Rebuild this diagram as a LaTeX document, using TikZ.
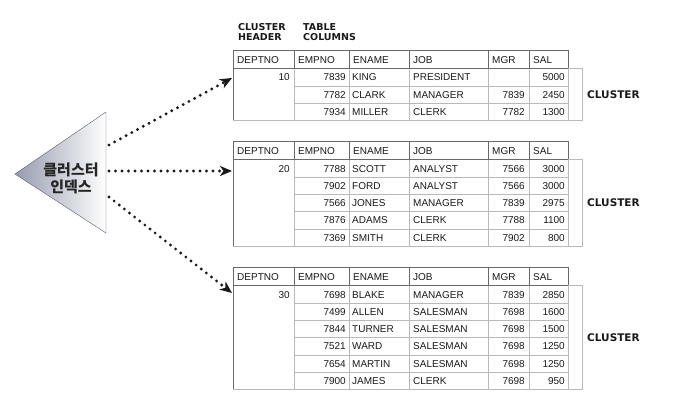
\documentclass[tikz,border=0pt]{standalone}
\usepackage{fontspec}
\setmainfont{Liberation Sans}
\newfontfamily\krfont{Noto Sans CJK KR}
\newfontfamily\tagfont{DejaVu Sans}
\usetikzlibrary{arrows.meta}

\definecolor{gridgray}{RGB}{185,185,185}
\definecolor{framegray}{RGB}{105,105,105}
\definecolor{tridark}{RGB}{150,155,175}
\definecolor{triedge}{RGB}{90,94,108}

\tikzset{
	cell/.style={font=\fontsize{10}{12}\selectfont, inner sep=0pt, text=black!90},
	num/.style={cell, anchor=base east},
	txt/.style={cell, anchor=base west},
	tag/.style={font=\tagfont\bfseries\fontsize{10.5}{10}\selectfont, inner sep=0pt, text=black!90},
	dotarrow/.style={black!90, line width=3.2pt, line cap=round, dash pattern=on 0pt off 6.5pt, -{Stealth[length=12pt, width=10pt, inset=3.5pt]}}
}

\begin{document}
\begin{tikzpicture}[x=1pt, y=-1pt]
	\useasboundingbox (0,0) rectangle (674,406);
	% labels over the first table
	\node[tag, font=\tagfont\bfseries\fontsize{9.5}{10}\selectfont, anchor=north west, align=left] (chead) at (238,23) {CLUSTER\\HEADER};
	\node[tag, font=\tagfont\bfseries\fontsize{9.5}{10}\selectfont, anchor=north west, align=left] (tcols) at (303,23) {TABLE\\COLUMNS};
	% the three clusters
	\foreach \ty/\n/\dep in {50/3/10, 141/5/20, 267/6/30} {
		\pgfmathsetmacro\hy{\ty+18.5}
		\pgfmathsetmacro\by{\hy+\n*17.3}
		\pgfmathtruncatemacro\m{\n-1}
		\foreach \r in {1,...,\m}
			\draw[gridgray] (294,\hy+\r*17.3) -- (568,\hy+\r*17.3);
		\foreach \cx in {294,349,409,488,529}
			\draw[gridgray] (\cx,\hy) -- (\cx,\by);
		\draw[gridgray] (233,\by) -- (568,\by) -- (568,\hy);
		\draw[framegray] (233,\hy) -- (233,\by);
		\draw[framegray, fill=white] (233,\ty) rectangle (568,\hy);
		\foreach \cx in {294,349,409,488,529}
			\draw[framegray] (\cx,\ty) -- (\cx,\hy);
		\foreach \cx/\h in {233/DEPTNO, 294/EMPNO, 349/ENAME, 409/JOB, 488/MGR, 529/SAL}
			\node[txt] (h\dep\h) at (\cx+4,\ty+13.5) {\h};
		\node[num] (d\dep) at (290,\hy+12.5) {\dep};
		\draw[gridgray] (568,\hy) -- (582,\hy) -- (582,\by) -- (568,\by);
		\node[tag, anchor=west] (cl\dep) at (587,{(\hy+\by)/2}) {CLUSTER};
	}
	% rows: table top / row / EMPNO / ENAME / JOB / MGR / SAL
	\foreach \ty/\i/\e/\nm/\job/\mgr/\sal in {
			50/0/7839/KING/PRESIDENT//5000, 50/1/7782/CLARK/MANAGER/7839/2450, 50/2/7934/MILLER/CLERK/7782/1300,
			141/0/7788/SCOTT/ANALYST/7566/3000, 141/1/7902/FORD/ANALYST/7566/3000, 141/2/7566/JONES/MANAGER/7839/2975,
			141/3/7876/ADAMS/CLERK/7788/1100, 141/4/7369/SMITH/CLERK/7902/800,
			267/0/7698/BLAKE/MANAGER/7839/2850, 267/1/7499/ALLEN/SALESMAN/7698/1600, 267/2/7844/TURNER/SALESMAN/7698/1500,
			267/3/7521/WARD/SALESMAN/7698/1250, 267/4/7654/MARTIN/SALESMAN/7698/1250, 267/5/7900/JAMES/CLERK/7698/950} {
		\node[num] (no\e) at (346,\ty+31+\i*17.3) {\e};
		\node[txt] (nm\e) at (352,\ty+31+\i*17.3) {\nm};
		\node[txt] (job\e) at (413,\ty+31+\i*17.3) {\job};
		\node[num] (mgr\e) at (525,\ty+31+\i*17.3) {\mgr};
		\node[num] (sal\e) at (565,\ty+31+\i*17.3) {\sal};
	}
	% cluster index
	\draw[triedge, left color=tridark, right color=white] (15,174) -- (106,112) -- (106,233) -- cycle;
	\node[font=\krfont\bfseries\fontsize{15}{17}\selectfont, align=center, text=black!85] (idx) at (71,178.5) {클러스터\\인덱스};
	\coordinate (s1) at (109,145);
	\coordinate (s2) at (109,171);
	\coordinate (s3) at (109,197);
	\coordinate (in1) at (232,78);
	\coordinate (in2) at (232,171);
	\coordinate (in3) at (232,293);
	\draw[dotarrow] (s1) -- (in1);
	\draw[dotarrow] (s2) -- (in2);
	\draw[dotarrow] (s3) -- (in3);
\end{tikzpicture}
\end{document}
